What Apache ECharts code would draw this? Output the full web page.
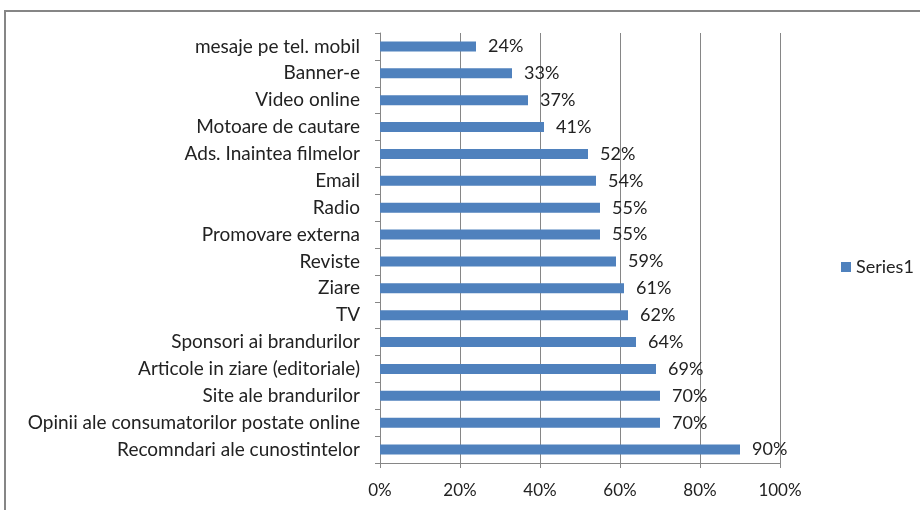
<!DOCTYPE html>
<html>
<head>
<meta charset="utf-8">
<script src="https://cdn.jsdelivr.net/npm/echarts@6/dist/echarts.min.js"></script>
<style>
  html, body { margin: 0; padding: 0; background: #fff; }
  #chart { width: 920px; height: 510px; }
</style>
</head>
<body>
<div id="chart"></div>
<script>
// categories listed bottom to top
const categories = [
  'Recomndari ale cunostintelor',
  'Opinii ale consumatorilor postate online',
  'Site ale brandurilor',
  'Articole in ziare (editoriale)',
  'Sponsori ai brandurilor',
  'TV',
  'Ziare',
  'Reviste',
  'Promovare externa',
  'Radio',
  'Email',
  'Ads. Inaintea filmelor',
  'Motoare de cautare',
  'Video online',
  'Banner-e',
  'mesaje pe tel. mobil'
];
const series1 = [90, 70, 70, 69, 64, 62, 61, 59, 55, 55, 54, 52, 41, 37, 33, 24];
const xTicks = [0, 20, 40, 60, 80, 100];

const font = 'Lato, "Open Sans", sans-serif';
const chart = echarts.init(document.getElementById('chart'));

chart.setOption({
  animation: false,
  textStyle: { fontFamily: font },
  graphic: [{
    type: 'rect',
    shape: { x: 5, y: 11, width: 940, height: 540 },
    style: { fill: 'none', stroke: '#868686', lineWidth: 2 }
  }],
  legend: {
    data: ['Series1'],
    orient: 'vertical',
    left: 836,
    top: 253,
    icon: 'rect',
    itemWidth: 10,
    itemHeight: 10,
    itemGap: 6,
    textStyle: { fontFamily: font, fontSize: 18, color: '#222' }
  },
  grid: { left: 380, right: 140, top: 33, bottom: 47, containLabel: false },
  xAxis: {
    type: 'value',
    min: xTicks[0],
    max: xTicks[xTicks.length - 1],
    interval: 20,
    axisLine: { show: true, lineStyle: { color: '#868686' } },
    axisTick: { show: true, length: 5, lineStyle: { color: '#868686' } },
    splitLine: { show: true, lineStyle: { color: '#868686', width: 1 } },
    axisLabel: {
      formatter: v => v + '%',
      fontSize: 17, color: '#222', margin: 19, fontFamily: font
    }
  },
  yAxis: {
    type: 'category',
    data: categories,
    axisLine: { show: true, lineStyle: { color: '#868686' } },
    axisTick: { show: true, length: 5, lineStyle: { color: '#868686' } },
    axisLabel: { fontSize: 19, color: '#222', margin: 20, fontFamily: font }
  },
  series: [{
    name: 'Series1',
    type: 'bar',
    data: series1,
    barWidth: 10,
    itemStyle: { color: '#4F81BD' },
    label: {
      show: true,
      position: 'right',
      distance: 12,
      formatter: p => p.value + '%',
      fontSize: 18,
      color: '#222',
      fontFamily: font
    }
  }]
});
</script>
</body>
</html>
